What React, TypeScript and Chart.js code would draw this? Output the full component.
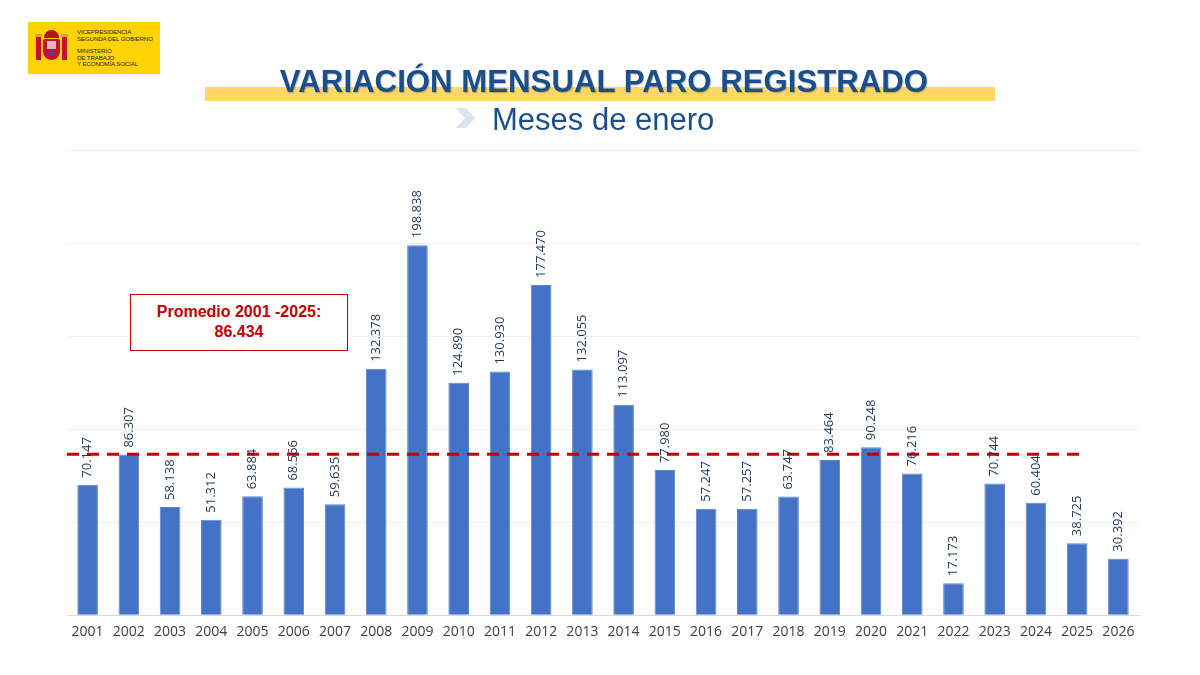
import React, { useEffect, useRef } from "react";
import { Chart, registerables } from "chart.js";

Chart.register(...registerables);

const years = [
  "2001", "2002", "2003", "2004", "2005", "2006", "2007", "2008", "2009", "2010",
  "2011", "2012", "2013", "2014", "2015", "2016", "2017", "2018", "2019", "2020",
  "2021", "2022", "2023", "2024", "2025", "2026",
];
const values = [
  70147, 86307, 58138, 51312, 63884, 68566, 59635, 132378, 198838, 124890,
  130930, 177470, 132055, 113097, 77980, 57247, 57257, 63747, 83464, 90248,
  76216, 17173, 70744, 60404, 38725, 30392,
];
const averageValue = 86434;
const averageLastYear = "2025";
const yMax = 250000;
const yStep = 50000;

const fmt = (n: number) => String(n).replace(/\B(?=(\d{3})+(?!\d))/g, ".");

const labelsPlugin = {
  id: "barLabels",
  afterDatasetsDraw(chart: any) {
    const ctx = chart.ctx;
    const meta = chart.getDatasetMeta(0);
    ctx.save();
    ctx.font = "13px 'Open Sans'";
    ctx.fillStyle = "#1c3659";
    ctx.textAlign = "left";
    ctx.textBaseline = "middle";
    meta.data.forEach((bar: any, i: number) => {
      ctx.save();
      ctx.translate(bar.x, bar.y - 7);
      ctx.rotate(-Math.PI / 2);
      ctx.fillText(fmt(values[i]), 0, 0);
      ctx.restore();
    });
    ctx.restore();
  },
};

const averagePlugin = {
  id: "averageLine",
  afterDatasetsDraw(chart: any) {
    const ctx = chart.ctx;
    const x = chart.scales.x;
    const y = chart.scales.y;
    const yy = y.getPixelForValue(averageValue);
    const meta = chart.getDatasetMeta(0);
    const idx = years.indexOf(averageLastYear);
    const endBar: any = meta.data[idx];
    const x0 = chart.chartArea.left;
    const x1 = x.getPixelForValue(idx) + (endBar ? endBar.width * 0.2 : 0);
    ctx.save();
    ctx.strokeStyle = "#c00000";
    ctx.lineWidth = 3;
    ctx.setLineDash([12, 8]);
    ctx.beginPath();
    ctx.moveTo(x0, yy);
    ctx.lineTo(x1, yy);
    ctx.stroke();
    ctx.restore();
  },
};

function Logo() {
  return (
    <div
      style={{
        position: "absolute",
        left: 28,
        top: 22,
        width: 132,
        height: 52,
        background: "#ffd204",
      }}
    >
      <div style={{ position: "absolute", left: 8, top: 14, width: 5, height: 24, background: "#c8102e" }} />
      <div style={{ position: "absolute", left: 34, top: 14, width: 5, height: 24, background: "#c8102e" }} />
      <div style={{ position: "absolute", left: 7, top: 12, width: 7, height: 3, background: "#e0a020" }} />
      <div style={{ position: "absolute", left: 33, top: 12, width: 7, height: 3, background: "#e0a020" }} />
      <div style={{ position: "absolute", left: 15, top: 17, width: 17, height: 21, background: "#c8102e", borderRadius: "2px 2px 9px 9px" }} />
      <div style={{ position: "absolute", left: 19, top: 19, width: 9, height: 8, background: "#e8b0c8" }} />
      <div style={{ position: "absolute", left: 21, top: 29, width: 5, height: 5, background: "#3050a0", borderRadius: 3 }} />
      <div style={{ position: "absolute", left: 16, top: 8, width: 15, height: 8, background: "#b5121b", borderRadius: "8px 8px 0 0" }} />
      <div
        style={{
          position: "absolute",
          left: 49,
          top: 7,
          fontFamily: "'Liberation Sans', Arial, sans-serif",
          fontSize: 6.2,
          lineHeight: "6.6px",
          color: "#2a2a2a",
          letterSpacing: -0.15,
          whiteSpace: "nowrap",
        }}
      >
        <div>VICEPRESIDENCIA</div>
        <div>SEGUNDA DEL GOBIERNO</div>
        <div style={{ height: 6 }} />
        <div>MINISTERIO</div>
        <div>DE TRABAJO</div>
        <div>Y ECONOMÍA SOCIAL</div>
      </div>
    </div>
  );
}

export default function App() {
  const canvasRef = useRef<HTMLCanvasElement | null>(null);

  useEffect(() => {
    if (!canvasRef.current) return;
    const chart = new Chart(canvasRef.current, {
      type: "bar",
      data: {
        labels: years,
        datasets: [
          {
            data: values,
            backgroundColor: "#4472c4",
            borderColor: "#5a85d0",
            borderWidth: 1,
            categoryPercentage: 1,
            barPercentage: 0.5,
          },
        ],
      },
      options: {
        animation: false,
        responsive: false,
        maintainAspectRatio: false,
        layout: { padding: { left: 67, right: 61, top: 150, bottom: 27 } },
        plugins: {
          legend: { display: false },
          tooltip: { enabled: false },
        },
        scales: {
          x: {
            grid: { display: false, drawTicks: false },
            border: { display: true, color: "#d9d9d9", width: 1 },
            ticks: {
              color: "#404040",
              font: { family: "'Open Sans'", size: 14 },
              padding: 8,
              maxRotation: 0,
              autoSkip: false,
            },
          },
          y: {
            min: 0,
            max: yMax,
            ticks: { display: false, stepSize: yStep },
            grid: { color: "#f0f0f0", drawTicks: false },
            border: { display: false },
          },
        },
      },
      plugins: [averagePlugin, labelsPlugin],
    });
    return () => chart.destroy();
  }, []);

  return (
    <div
      style={{
        position: "fixed",
        left: 0,
        top: 0,
        width: 1200,
        height: 675,
        background: "#ffffff",
        overflow: "hidden",
      }}
    >
      <canvas ref={canvasRef} width={1200} height={675} style={{ position: "absolute", left: 0, top: 0, width: 1200, height: 675 }} />
      <Logo />
      <div style={{ position: "absolute", left: 205, top: 87, width: 790, height: 14, background: "#fdd866" }} />
      <div
        style={{
          position: "absolute",
          left: 0,
          width: 1208,
          top: 63,
          textAlign: "center",
          fontFamily: "'Liberation Sans', Arial, sans-serif",
          fontWeight: 700,
          fontSize: 32,
          lineHeight: "36px",
          color: "#1a4f8c",
          transform: "scaleX(0.975)",
          transformOrigin: "604px 0",
          textShadow: "1px 1px 1px rgba(0,0,0,0.25)",
        }}
      >
        VARIACIÓN MENSUAL PARO REGISTRADO
      </div>
      <svg style={{ position: "absolute", left: 454, top: 107 }} width={22} height={22} viewBox="0 0 22 22">
        <polygon points="2,1 12,1 21,11 12,21 2,21 11,11" fill="#dae3f0" />
      </svg>
      <div
        style={{
          position: "absolute",
          left: 492,
          top: 102,
          fontFamily: "'Liberation Sans', Arial, sans-serif",
          fontSize: 31,
          lineHeight: "36px",
          color: "#1a4f8c",
          whiteSpace: "nowrap",
        }}
      >
        Meses de enero
      </div>
      <div
        style={{
          position: "absolute",
          left: 130,
          top: 294,
          width: 218,
          height: 57,
          boxSizing: "border-box",
          border: "1.5px solid #c00000",
          background: "#ffffff",
          display: "flex",
          flexDirection: "column",
          alignItems: "center",
          justifyContent: "center",
          fontFamily: "'Liberation Sans', Arial, sans-serif",
          fontWeight: 700,
          fontSize: 16,
          lineHeight: "20px",
          color: "#c00000",
          paddingBottom: 2,
        }}
      >
        <div>Promedio 2001 -2025:</div>
        <div>86.434</div>
      </div>
    </div>
  );
}
